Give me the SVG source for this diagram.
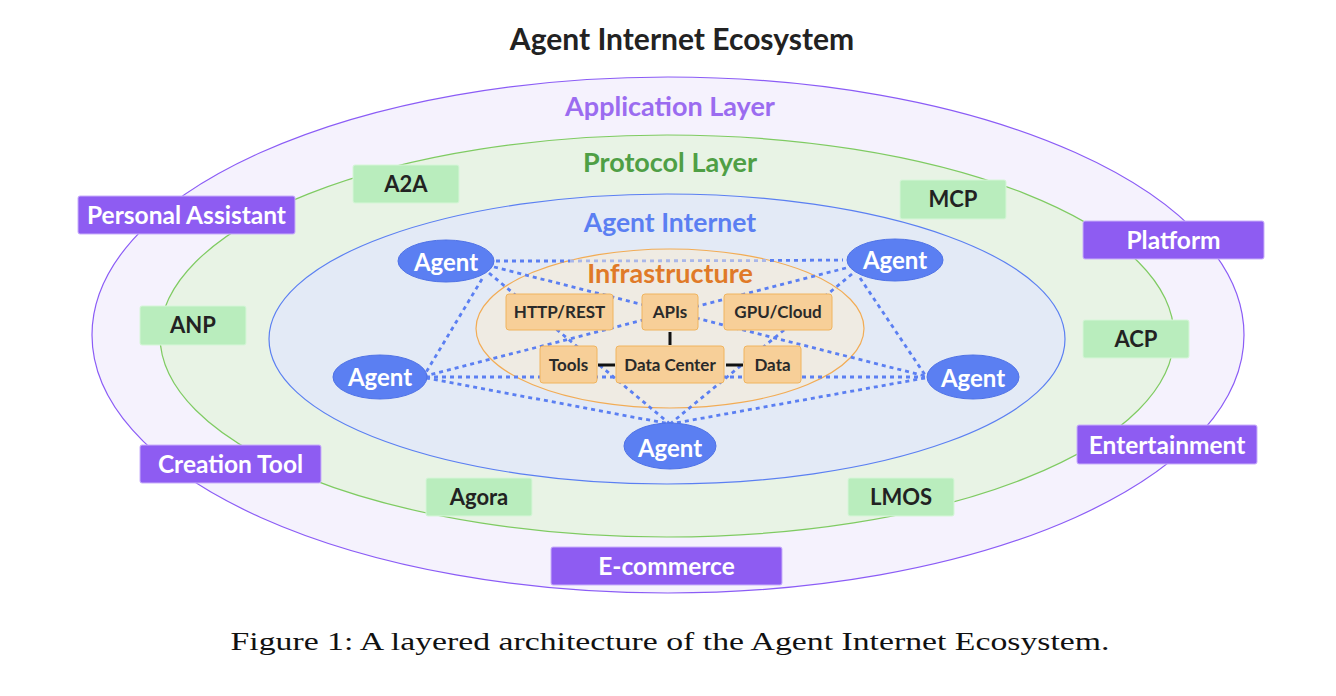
<svg xmlns="http://www.w3.org/2000/svg" width="1336" height="696" viewBox="0 0 1336 696">
<style>
.t{font-family:Lato,"Liberation Sans",sans-serif;font-weight:bold;text-anchor:middle}
.app rect{fill:#8e5cf2;stroke:#c9b0fa;stroke-width:1}
.app text{fill:#ffffff;font-size:24.5px}
.proto rect{fill:#b9edbd;stroke:#d6f6d8;stroke-width:1}
.proto text{fill:#222222;font-size:22px}
.infra rect{fill:#f7cf98;stroke:#f0b45e;stroke-width:1}
.infra text{fill:#2a2a2a;font-size:17px}
.agent ellipse{fill:#5b7ff2;stroke:#4f72e6;stroke-width:1}
.agent text{fill:#ffffff;font-size:24px}
.dash line{stroke:#5b7ff2;stroke-width:2.8;stroke-dasharray:4 4}
.solid line{stroke:#111111;stroke-width:3}
</style>
<rect width="1336" height="696" fill="#ffffff"/>
<text class="t" x="682" y="50" font-size="30" fill="#222222">Agent Internet Ecosystem</text>

<g id="application-layer">
<ellipse cx="668" cy="335" rx="576" ry="258" fill="#f5f2fd" stroke="#8b5cf6" stroke-width="1.2"/>
<text class="t" x="670" y="116" font-size="27" fill="#9b6cf0">Application Layer</text>
</g>
<g id="protocol-layer">
<ellipse cx="667" cy="336" rx="507" ry="201" fill="#e8f3e5" stroke="#7fcb62" stroke-width="1.2"/>
<text class="t" x="670" y="172" font-size="27" fill="#4f9f45">Protocol Layer</text>
</g>
<g id="agent-internet">
<ellipse cx="667" cy="339" rx="398" ry="145" fill="#e3eaf6" stroke="#5b7ff2" stroke-width="1.2"/>
<text class="t" x="670" y="232" font-size="26.5" fill="#5b7ff2">Agent Internet</text>
</g>
<g id="infrastructure">
<ellipse cx="670" cy="328.5" rx="194" ry="79.5" fill="#efebe3" stroke="#f2ac55" stroke-width="1.2"/>
<text class="t" x="670" y="283" font-size="27" fill="#e07a28">Infrastructure</text>
</g>

<g id="connectors">
<g class="dash">
<line x1="496" y1="261" x2="570" y2="261"/>
<line x1="570" y1="261" x2="770" y2="260.5" style="stroke:#a9b7ea"/>
<line x1="770" y1="260.5" x2="843" y2="260"/>
<line x1="494" y1="267" x2="925" y2="376"/>
<line x1="489" y1="273" x2="670" y2="424"/>
<line x1="482" y1="279" x2="425" y2="374"/>
<line x1="846" y1="268" x2="425" y2="376"/>
<line x1="852" y1="274" x2="670" y2="424"/>
<line x1="860" y1="278" x2="925" y2="375"/>
<line x1="426" y1="377" x2="925" y2="377"/>
<line x1="426" y1="378" x2="670" y2="424"/>
<line x1="925" y1="378" x2="670" y2="424"/>
</g>
<g class="solid">
<line x1="670" y1="332" x2="670" y2="345"/>
<line x1="598" y1="365" x2="615" y2="365"/>
<line x1="726" y1="365" x2="743" y2="365"/>
</g>
</g>

<g id="http-rest" class="infra"><rect x="506" y="294" width="107" height="36" rx="3"/><text class="t" x="559.5" y="318">HTTP/REST</text></g>
<g id="apis" class="infra"><rect x="642" y="294" width="56" height="36" rx="3"/><text class="t" x="670" y="318">APIs</text></g>
<g id="gpu-cloud" class="infra"><rect x="724" y="294" width="108" height="36" rx="3"/><text class="t" x="778" y="318">GPU/Cloud</text></g>
<g id="tools" class="infra"><rect x="540" y="346" width="57" height="37" rx="3"/><text class="t" x="568.5" y="370.5">Tools</text></g>
<g id="data-center" class="infra"><rect x="616" y="346" width="108" height="37" rx="3"/><text class="t" x="670" y="370.5">Data Center</text></g>
<g id="data" class="infra"><rect x="744" y="346" width="57" height="37" rx="3"/><text class="t" x="772.5" y="370.5">Data</text></g>

<g id="agent-1" class="agent"><ellipse cx="446" cy="261" rx="48" ry="21"/><text class="t" x="446" y="271">Agent</text></g>
<g id="agent-2" class="agent"><ellipse cx="895" cy="260" rx="48" ry="21"/><text class="t" x="895" y="269">Agent</text></g>
<g id="agent-3" class="agent"><ellipse cx="380" cy="377" rx="47" ry="22"/><text class="t" x="380" y="386">Agent</text></g>
<g id="agent-4" class="agent"><ellipse cx="973" cy="377" rx="46" ry="22"/><text class="t" x="973" y="387">Agent</text></g>
<g id="agent-5" class="agent"><ellipse cx="670" cy="446" rx="46" ry="23"/><text class="t" x="670" y="457">Agent</text></g>

<g id="a2a" class="proto"><rect x="353" y="165" width="106" height="38" rx="2"/><text class="t" x="406" y="192">A2A</text></g>
<g id="mcp" class="proto"><rect x="900" y="180" width="106" height="39" rx="2"/><text class="t" x="953" y="207">MCP</text></g>
<g id="anp" class="proto"><rect x="140" y="306" width="106" height="39" rx="2"/><text class="t" x="193" y="333">ANP</text></g>
<g id="acp" class="proto"><rect x="1083" y="320" width="106" height="38" rx="2"/><text class="t" x="1136" y="347">ACP</text></g>
<g id="agora" class="proto"><rect x="426" y="478" width="106" height="38" rx="2"/><text class="t" x="479" y="505">Agora</text></g>
<g id="lmos" class="proto"><rect x="848" y="478" width="106" height="38" rx="2"/><text class="t" x="901" y="505">LMOS</text></g>

<g id="personal-assistant" class="app"><rect x="78" y="196" width="217" height="38" rx="2"/><text class="t" x="186.5" y="224">Personal Assistant</text></g>
<g id="platform" class="app"><rect x="1083" y="221" width="181" height="38" rx="2"/><text class="t" x="1173.5" y="249">Platform</text></g>
<g id="entertainment" class="app"><rect x="1077" y="425" width="180" height="39" rx="2"/><text class="t" x="1167" y="454">Entertainment</text></g>
<g id="creation-tool" class="app"><rect x="140" y="445" width="181" height="38" rx="2"/><text class="t" x="230.5" y="473">Creation Tool</text></g>
<g id="e-commerce" class="app"><rect x="551" y="547" width="231" height="38" rx="2"/><text class="t" x="666.5" y="575">E-commerce</text></g>

<text x="670" y="650" font-family="'Liberation Serif',serif" font-size="26" fill="#111111" text-anchor="middle" textLength="879" lengthAdjust="spacingAndGlyphs">Figure 1: A layered architecture of the Agent Internet Ecosystem.</text>
</svg>
